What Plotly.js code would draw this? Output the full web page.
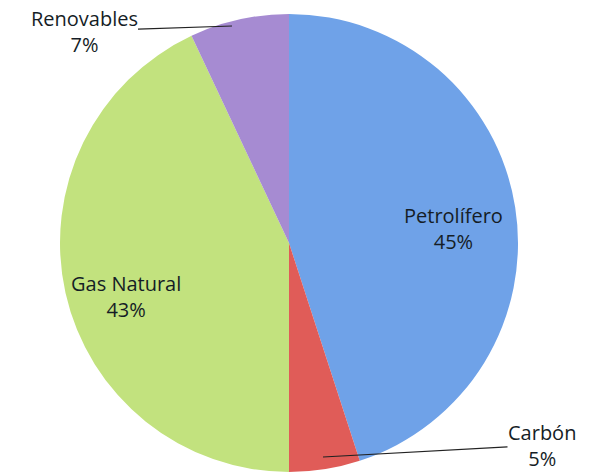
<!DOCTYPE html>
<html>
<head>
<meta charset="utf-8">
<script src="https://cdn.plot.ly/plotly-3.0.1.min.js"></script>
<style>html,body{margin:0;padding:0;background:#fff;}#chart{width:594px;height:474px;}</style>
</head>
<body>
<div id="chart"></div>
<script>
const categories = ["Petrolífero", "Carbón", "Gas Natural", "Renovables"];
const values = [45, 5, 43, 7];
const colors = ["#6fa2e8", "#e05c58", "#c2e27e", "#a68bd2"];

const font = {family: "'Open Sans', sans-serif", size: 20, color: "#151d26"};

const trace = {
  type: "pie",
  labels: categories,
  values: values,
  sort: false,
  direction: "clockwise",
  rotation: 0,
  marker: {colors: colors, line: {width: 0}},
  textinfo: "none",
  hoverinfo: "label+percent",
  domain: {x: [(289 - 229) / 594, (289 + 229) / 594], y: [(231 - 229) / 474, (231 + 229) / 474]}
};

// label placement (pixel positions of label blocks; tip = leader line end)
const labelPos = [
  {txt: [453, 228]},
  {txt: [542, 445], tip: [323, 457]},
  {txt: [126, 296]},
  {txt: [84, 31], tip: [232, 26]}
];
const annotations = labelPos.map((o, i) => {
  const base = {
    xref: "paper", yref: "paper",
    text: categories[i] + "<br>" + values[i] + "%",
    font: font, align: "center", borderpad: 0
  };
  if (o.tip) {
    return Object.assign(base, {
      x: o.tip[0] / 594, y: 1 - o.tip[1] / 474,
      ax: o.txt[0] - o.tip[0], ay: o.txt[1] - o.tip[1],
      axref: "pixel", ayref: "pixel",
      showarrow: true, arrowhead: 0, arrowwidth: 1.2, arrowcolor: "#222",
      standoff: 0, startstandoff: 0
    });
  }
  return Object.assign(base, {
    x: o.txt[0] / 594, y: 1 - o.txt[1] / 474,
    xanchor: "center", yanchor: "middle", showarrow: false
  });
});

Plotly.newPlot("chart", [trace], {
  width: 594, height: 474,
  margin: {l: 0, r: 0, t: 0, b: 0},
  showlegend: false,
  paper_bgcolor: "#fff",
  annotations: annotations
}, {displayModeBar: false, staticPlot: true});
</script>
</body>
</html>
